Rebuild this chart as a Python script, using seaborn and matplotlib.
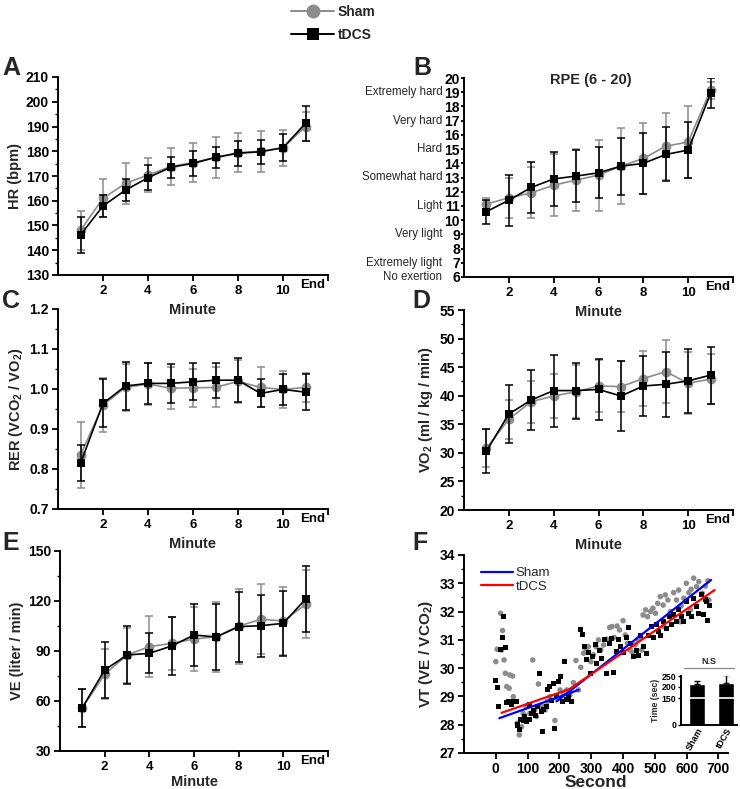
import numpy as np
import pandas as pd
import matplotlib
matplotlib.use("Agg")
import matplotlib.pyplot as plt
import seaborn as sns
from matplotlib.ticker import MultipleLocator
from matplotlib.lines import Line2D

sns.set_style("ticks")
plt.rcParams.update({
    "font.family": ["Liberation Sans", "DejaVu Sans"],
    "font.weight": "bold",
    "axes.labelweight": "bold",
    "mathtext.fontset": "custom",
    "mathtext.rm": "Liberation Sans:bold",
    "mathtext.it": "Liberation Sans:bold",
    "mathtext.bf": "Liberation Sans:bold",
    "axes.edgecolor": "black",
    "xtick.color": "black",
    "ytick.color": "black",
    "axes.linewidth": 1.4,
})

GREY = "#8c8c8c"

# ---------------- data ----------------
minutes = [1, 2, 3, 4, 5, 6, 7, 8, 9, 10, 11]

hr_sham = [148, 161, 167, 170.4, 173.8, 175.4, 177.5, 179.4, 180, 181.4, 190]
hr_sham_sd = [7.8, 7.6, 8.4, 7, 7.5, 8, 8.4, 7.8, 8.3, 7.2, 6]
hr_tdcs = [146.2, 157.9, 164.3, 169.3, 173.5, 175.1, 177.5, 179.2, 179.8, 181.4, 191.3]
hr_tdcs_sd = [7.3, 4.3, 4.5, 5, 4.2, 5, 4.4, 5, 4.8, 5.4, 7]

rpe_sham = [11.13, 11.57, 11.92, 12.46, 12.82, 13.17, 13.8, 14.34, 15.2, 15.5, 19.15]
rpe_sham_sd = [0.4, 1.4, 1.8, 2.2, 2.2, 2.5, 2.65, 2.5, 2.35, 2.5, 0.6]
rpe_tdcs = [10.6, 11.4, 12.3, 12.9, 13.1, 13.33, 13.8, 13.99, 14.62, 14.93, 18.92]
rpe_tdcs_sd = [0.85, 1.8, 1.8, 1.9, 1.8, 1.8, 2.0, 2.15, 1.9, 2.0, 1.05]
rpe_ticks = [6, 7, 8, 9, 10, 11, 12, 13, 14, 15, 16, 17, 18, 19, 20]
rpe_desc_values = [19, 17, 15, 13, 11, 9, 7, 6]
rpe_desc_labels = ["Extremely hard", "Very hard", "Hard", "Somewhat hard",
                   "Light", "Very light", "Extremely light", "No exertion"]

rer_sham = [0.835, 0.96, 1.004, 1.0125, 1.002, 1.003, 1.004, 1.019, 1.004, 0.999, 1.004]
rer_sham_sd = [0.083, 0.067, 0.059, 0.052, 0.052, 0.048, 0.05, 0.054, 0.05, 0.047, 0.036]
rer_tdcs = [0.814, 0.964, 1.0075, 1.014, 1.014, 1.018, 1.022, 1.022, 0.989, 0.999, 0.992]
rer_tdcs_sd = [0.045, 0.06, 0.059, 0.052, 0.048, 0.046, 0.044, 0.055, 0.035, 0.038, 0.045]

vo2_sham = [30.8, 35.9, 38.96, 39.95, 40.7, 41.7, 41.6, 43.0, 44.2, 42.2, 42.9]
vo2_sham_sd = [3.3, 3.4, 3.7, 3.8, 4.6, 4.5, 4.4, 4.8, 5.5, 5.4, 4.4]
vo2_tdcs = [30.3, 36.8, 39.25, 40.9, 40.9, 41.1, 39.95, 41.7, 42.0, 42.6, 43.6]
vo2_tdcs_sd = [3.9, 5.0, 5.2, 6.3, 4.9, 5.3, 6.1, 5.3, 5.7, 5.6, 5.0]

ve_sham = [56, 76, 87.6, 92.6, 94.6, 97.2, 98.6, 105, 109, 108, 118]
ve_sham_sd = [11.5, 15, 16.5, 18.4, 15.8, 19.4, 21, 22.5, 21, 20.5, 20.4]
ve_tdcs = [56, 78.6, 87.6, 88.6, 93, 99.6, 98.4, 104.6, 105.2, 106.6, 121.2]
ve_tdcs_sd = [11.4, 16.8, 17.2, 12, 17.5, 18.8, 19.6, 21, 18.5, 19.7, 19.7]

vt_sham_t = [0, 4, 15, 21, 18, 26, 30, 44, 53, 42, 34, 55, 62, 67, 74, 81, 86, 95, 97, 107,
             116, 123, 128, 134, 139, 147, 155, 162, 170, 186, 191, 202, 212, 223, 233, 244,
             252, 260, 267, 276, 284, 291, 299, 307, 315, 323, 330, 339, 349, 358, 365, 372,
             381, 389, 400, 407, 414, 423, 431, 438, 446, 454, 459, 463, 471, 477, 486, 494,
             502, 509, 517, 526, 528, 533, 541, 549, 559, 568, 575, 580, 583, 591, 599, 607,
             612, 614, 622, 631, 638, 649, 659, 667, 670]
vt_sham_v = [30.23, 30.67, 31.94, 31.33, 30.64, 30.29, 29.82, 29.76, 29.72, 29.29, 29.35, 28.99,
             28.82, 28.05, 27.64, 27.93, 28.4, 28.64, 28.17, 28.4, 30.29, 28.52, 28.29, 29.44,
             28.64, 28.64, 28.52, 28.82, 28.99, 28.15, 28.93, 29.23, 29.11, 29.23, 29.05, 29.49,
             30.27, 29.23, 30.03, 30.53, 30.67, 30.76, 30.23, 30.47, 30.76, 31.0, 30.64, 30.82,
             31.02, 31.44, 31.47, 31.09, 31.49, 31.35, 31.68, 31.17, 30.88, 30.64, 30.53, 30.82,
             31.02, 31.11, 30.64, 31.88, 32.06, 31.82, 32.0, 32.12, 31.94, 32.29, 32.53, 32.23,
             31.47, 32.59, 32.41, 32.0, 32.67, 32.41, 32.76, 31.64, 32.2, 32.47, 33.0, 32.67,
             32.06, 32.79, 33.18, 32.88, 33.06, 32.65, 32.9, 33.09, 32.41]

vt_tdcs_t = [0, 4, 9, 15, 21, 23, 31, 34, 41, 49, 57, 65, 67, 74, 78, 86, 91, 97, 105, 107,
             113, 118, 126, 130, 137, 144, 147, 151, 158, 162, 170, 176, 181, 186, 191, 198,
             204, 210, 217, 223, 229, 239, 267, 273, 278, 284, 291, 299, 305, 312, 318, 326,
             333, 341, 349, 358, 365, 370, 379, 386, 393, 402, 410, 417, 424, 433, 441, 449,
             456, 465, 473, 481, 488, 496, 505, 512, 519, 528, 536, 545, 551, 559, 568, 575,
             583, 591, 599, 607, 614, 622, 631, 638, 646, 652, 659, 662, 667, 673]
vt_tdcs_v = [29.55, 29.32, 28.64, 30.67, 31.09, 31.82, 30.74, 28.78, 28.82, 28.7, 28.82, 28.82,
             27.99, 27.82, 28.17, 28.15, 28.29, 28.11, 28.17, 28.7, 28.38, 28.52, 28.31, 28.64,
             29.8, 28.46, 27.76, 28.54, 28.64, 29.23, 29.35, 28.85, 29.47, 27.88, 29.02, 29.53,
             29.7, 28.82, 30.25, 28.9, 28.99, 28.82, 31.35, 31.2, 30.76, 30.29, 30.55, 29.82,
             30.41, 30.82, 30.17, 30.64, 30.35, 31.02, 29.82, 30.86, 31.06, 29.84, 30.58, 31.0,
             30.76, 30.55, 31.09, 31.44, 30.88, 30.41, 30.64, 30.43, 31.17, 30.76, 30.53, 31.17,
             31.47, 31.09, 31.53, 31.29, 31.17, 31.64, 31.41, 31.82, 31.53, 31.88, 31.64, 32.06,
             31.82, 31.64, 32.35, 31.94, 31.82, 32.47, 32.17, 31.94, 32.59, 31.88, 32.41, 32.35,
             31.68, 32.23]

fit_sham_seg1_t = [11, 260]
fit_sham_seg1_v = [28.23, 29.23]
fit_sham_seg2_t = [191, 677]
fit_sham_seg2_v = [28.82, 33.12]
fit_tdcs_t = [18, 230, 688]
fit_tdcs_v = [28.42, 29.25, 32.76]

inset_groups = ["Sham", "tDCS"]
inset_time = [214, 216]
inset_time_err = [12, 40]

# ---------------- figure ----------------
W, H = 740, 789
fig = plt.figure(figsize=(W / 100, H / 100), dpi=100)


def add_ax(l, r, t, b):
    ax = fig.add_axes([l / W, 1 - b / H, (r - l) / W, (b - t) / H])
    ax.patch.set_visible(False)
    return ax


def style(ax, ysize=10):
    sns.despine(ax=ax)
    for s in ["left", "bottom"]:
        ax.spines[s].set_linewidth(1.4)
    ax.tick_params(which="major", length=4.5, width=1.3, direction="out")
    ax.tick_params(which="minor", length=2.5, width=1.0, direction="out")
    ax.tick_params(axis="y", labelsize=ysize, pad=2)


def minute_axis(ax, labelpad=4):
    ax.set_xlim(0, 12)
    ax.set_xticks([2, 4, 6, 8, 10, 12])
    ax.set_xticklabels(["2", "4", "6", "8", "10", ""])
    ax.set_xticks([11.3], ["End"], minor=True)
    ax.tick_params(axis="x", which="minor", length=0)
    ax.tick_params(axis="x", which="both", labelsize=9.5, pad=3)
    ax.set_xlabel("Minute", fontsize=10.5, labelpad=labelpad)


def draw_series(ax, ms, ss, mt, st):
    ax.errorbar(minutes, ms, yerr=ss, fmt="none", ecolor=GREY, elinewidth=1.1,
                capsize=2.6, capthick=1.1, zorder=2)
    sns.lineplot(x=minutes, y=ms, color=GREY, marker="o", markersize=7,
                 markeredgewidth=0, linewidth=1.2, ax=ax, zorder=3)
    ax.errorbar(minutes, mt, yerr=st, fmt="none", ecolor="black", elinewidth=1.1,
                capsize=2.6, capthick=1.1, zorder=4)
    sns.lineplot(x=minutes, y=mt, color="black", marker="s", markersize=6,
                 markeredgewidth=0, linewidth=1.2, ax=ax, zorder=5)


def panel_letter(x, y, s):
    fig.text(x / W, 1 - y / H, s, fontsize=18, fontweight="bold", ha="left", va="baseline")


# A: HR
axA = add_ax(58, 328, 77, 275)
draw_series(axA, hr_sham, hr_sham_sd, hr_tdcs, hr_tdcs_sd)
style(axA)
minute_axis(axA)
axA.set_ylim(130, 210)
axA.yaxis.set_major_locator(MultipleLocator(10))
axA.yaxis.set_minor_locator(MultipleLocator(5))
axA.set_ylabel("HR (bpm)", fontsize=10.5, labelpad=3)
panel_letter(2, 75, "A")

# B: RPE
axB = add_ax(464, 733, 78, 277)
draw_series(axB, rpe_sham, rpe_sham_sd, rpe_tdcs, rpe_tdcs_sd)
style(axB)
minute_axis(axB)
axB.set_ylim(6, 20)
axB.set_yticks(rpe_ticks)
axB.tick_params(axis="y", length=2, pad=1)
for v, lab in zip(rpe_desc_values, rpe_desc_labels):
    axB.annotate(lab, xy=(0, v), xycoords=("axes fraction", "data"),
                 xytext=(-15.5, 0), textcoords="offset points", ha="right",
                 va="center", fontsize=8.3, fontweight="normal")
axB.text(0.47, 0.99, "RPE (6 - 20)", transform=axB.transAxes, ha="center",
         va="center", fontsize=10.5, fontweight="bold")
panel_letter(413, 75, "B")

# C: RER
axC = add_ax(58, 328, 309, 509)
draw_series(axC, rer_sham, rer_sham_sd, rer_tdcs, rer_tdcs_sd)
style(axC)
minute_axis(axC)
axC.set_ylim(0.7, 1.2)
axC.yaxis.set_major_locator(MultipleLocator(0.1))
axC.yaxis.set_minor_locator(MultipleLocator(0.05))
axC.set_ylabel("RER (VCO$_2$ / VO$_2$)", fontsize=10.5, labelpad=3)
panel_letter(2, 308, "C")

# D: VO2
axD = add_ax(464, 733, 310, 510)
draw_series(axD, vo2_sham, vo2_sham_sd, vo2_tdcs, vo2_tdcs_sd)
style(axD)
minute_axis(axD)
axD.set_ylim(20, 55)
axD.yaxis.set_major_locator(MultipleLocator(5))
axD.yaxis.set_minor_locator(MultipleLocator(2.5))
axD.set_ylabel("VO$_2$ (ml / kg / min)", fontsize=10.5, labelpad=3)
panel_letter(412, 308, "D")

# E: VE
axE = add_ax(60, 328, 551, 751)
draw_series(axE, ve_sham, ve_sham_sd, ve_tdcs, ve_tdcs_sd)
style(axE)
minute_axis(axE, labelpad=1.5)
axE.set_ylim(30, 150)
axE.yaxis.set_major_locator(MultipleLocator(30))
axE.yaxis.set_minor_locator(MultipleLocator(15))
axE.set_ylabel("VE (liter / min)", fontsize=10.5, labelpad=3)
panel_letter(2, 550, "E")

# F: VT
axF = add_ax(464, 728, 555, 753)
sns.scatterplot(x=vt_sham_t, y=vt_sham_v, color=GREY, marker="o", s=16,
                edgecolor="none", ax=axF, zorder=2)
sns.scatterplot(x=vt_tdcs_t, y=vt_tdcs_v, color="black", marker="s", s=13,
                edgecolor="none", ax=axF, zorder=3)
sns.lineplot(x=fit_sham_seg1_t, y=fit_sham_seg1_v, color="blue", linewidth=1.6, ax=axF, zorder=4)
sns.lineplot(x=fit_sham_seg2_t, y=fit_sham_seg2_v, color="blue", linewidth=1.6, ax=axF, zorder=4)
sns.lineplot(x=fit_tdcs_t, y=fit_tdcs_v, color="red", linewidth=1.6, ax=axF, zorder=4)
style(axF)
axF.set_xlim(-100, 730)
axF.set_xticks(list(range(0, 701, 100)))
axF.tick_params(axis="x", labelsize=10, pad=2)
axF.set_ylim(27, 34)
axF.yaxis.set_major_locator(MultipleLocator(1))
axF.yaxis.set_minor_locator(MultipleLocator(0.5))
axF.set_xlabel("Second", fontsize=12.5, labelpad=-1)
axF.set_ylabel("VT (VE / VCO$_2$)", fontsize=11, labelpad=3)
axF.legend(handles=[Line2D([], [], color="blue", lw=1.6), Line2D([], [], color="red", lw=1.6)],
           labels=["Sham", "tDCS"], loc="upper left", bbox_to_anchor=(0.03, 0.985),
           frameon=False, handlelength=2.4, handletextpad=0.2, labelspacing=0.1,
           borderpad=0.2, prop={"size": 9.5, "weight": "normal"})
panel_letter(412, 550, "F")

# inset
axI = add_ax(681, 737, 676, 725)
sns.barplot(x=inset_groups, y=inset_time, color="black", width=0.55,
            errorbar=None, ax=axI, zorder=1)
axI.errorbar([0, 1], inset_time, yerr=[[0, 0], inset_time_err], fmt="none",
             ecolor="black", elinewidth=1, capsize=2, capthick=1, zorder=3)


def fwd(y):
    y = np.asarray(y, dtype=float)
    return np.where(y <= 150, y * 0.18, 27 + (y - 150) * 0.22)


def inv(v):
    v = np.asarray(v, dtype=float)
    return np.where(v <= 27, v / 0.18, 150 + (v - 27) / 0.22)


axI.set_yscale("function", functions=(fwd, inv))
axI.set_ylim(0, 250)
axI.set_xlim(-0.55, 1.38)
axI.set_yticks([0, 150, 200, 250])
axI.yaxis.set_minor_locator(matplotlib.ticker.NullLocator())
axI.axhline(150, color="white", lw=1.2, zorder=2)
sns.despine(ax=axI)
axI.tick_params(axis="y", labelsize=6.3, length=2.5, width=1, pad=1)
axI.tick_params(axis="x", labelsize=6.5, length=0, pad=1)
for lab in axI.get_xticklabels():
    lab.set_rotation(60)
    lab.set_ha("right")
    lab.set_rotation_mode("anchor")
axI.set_ylabel("Time (sec)", fontsize=6.3, labelpad=1)
axI.set_xlabel("")
axI.plot([0.05, 0.95], [1.17, 1.17], transform=axI.transAxes, color=GREY,
         lw=0.9, clip_on=False)
axI.text(0.5, 1.2, "N.S", transform=axI.transAxes, ha="center", va="bottom",
         fontsize=6.5, fontweight="bold")

# top legend
handles = [Line2D([], [], color=GREY, marker="o", markersize=10, markeredgewidth=0, lw=1.4),
           Line2D([], [], color="black", marker="s", markersize=9, markeredgewidth=0, lw=1.4)]
fig.legend(handles=handles, labels=["Sham", "tDCS"], loc="upper left",
           bbox_to_anchor=(283 / W, 1 + 3 / H), frameon=False, handlelength=3.1,
           handletextpad=0.25, labelspacing=0.6, borderpad=0.1,
           prop={"size": 10, "weight": "bold"})

fig.savefig("out.png", dpi=100)
